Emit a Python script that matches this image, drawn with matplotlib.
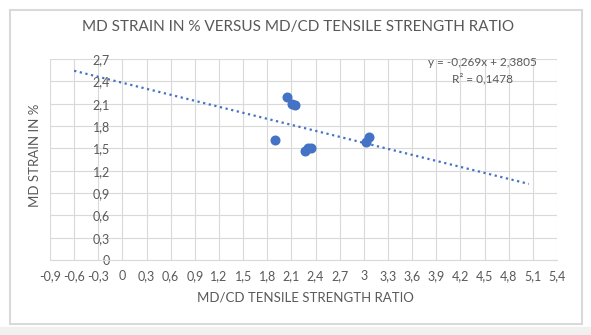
import matplotlib.pyplot as plt
import numpy as np
from matplotlib.patches import Rectangle

# data
ratio = [2.04, 2.11, 2.14, 1.90, 2.31, 2.27, 2.34, 3.07, 3.03]
strain = [2.19, 2.09, 2.08, 1.61, 1.50, 1.46, 1.50, 1.65, 1.58]
slope = -0.269
intercept = 2.3805
r2 = 0.1478
trend_x = [-0.6, 5.05]
x_ticks = [round(-0.9 + 0.3 * i, 1) + 0.0 for i in range(22)]
y_ticks = [round(0.3 * i, 1) for i in range(10)]

plt.rcParams['font.family'] = ['Lato', 'DejaVu Sans']
grey = '#595959'
blue = '#4472C4'


def fmt(v):
    if abs(v) < 1e-9:
        v = 0.0
    return ('%g' % v).replace('.', ',')


fig = plt.figure(figsize=(5.91, 3.35), dpi=100)
W, H = 591, 335
# light strip at the bottom + chart border
fig.patches.append(Rectangle((0, 0), 1, 8 / H, transform=fig.transFigure,
                             color='#f0f0f0', zorder=0))
fig.patches.append(Rectangle((10 / W, (H - 324) / H), 572 / W, 314 / H,
                             transform=fig.transFigure, fill=False,
                             edgecolor='#d9d9d9', lw=1.5, zorder=1))

ax = fig.add_axes([50 / W, (H - 260) / H, 507 / W, 201 / H])
ax.set_xlim(x_ticks[0], x_ticks[-1])
ax.set_ylim(y_ticks[0], y_ticks[-1])
ax.set_xticks(x_ticks)
ax.set_yticks(y_ticks)
ax.set_xticklabels([fmt(v) for v in x_ticks])
ax.set_yticklabels([fmt(v) for v in y_ticks])
ax.grid(True, color='#d9d9d9', lw=0.8)
ax.set_axisbelow(True)
for s in ['top', 'right']:
    ax.spines[s].set_visible(False)
ax.spines['left'].set_position(('data', 0))
ax.spines['left'].set_visible(False)
ax.spines['bottom'].set_color('#d9d9d9')
ax.tick_params(axis='both', length=0, labelsize=9, colors=grey)
ax.tick_params(axis='y', pad=9)
ax.tick_params(axis='x', pad=7)

tx = np.array(trend_x)
ax.plot(tx, slope * tx + intercept, color=blue, lw=1.6,
        linestyle=(0, (1, 1.6)), zorder=2)
ax.plot(ratio, strain, 'o', color=blue, markersize=6.2, zorder=3)

eq = 'y = ' + fmt(slope) + 'x + ' + fmt(intercept)
fig.text(482 / W, 1 - 63 / H, eq, ha='center', va='center', fontsize=8.5, color=grey)
fig.text(482 / W, 1 - 79 / H, 'R² = ' + fmt(r2), ha='center', va='center',
         fontsize=8.5, color=grey)

fig.text(298 / W, 1 - 27 / H, 'MD STRAIN IN % VERSUS MD/CD TENSILE STRENGTH RATIO',
         ha='center', va='center', fontsize=11, color=grey)
fig.text(305 / W, 1 - 298 / H, 'MD/CD TENSILE STRENGTH RATIO',
         ha='center', va='center', fontsize=9.5, color=grey)
fig.text(35 / W, 1 - 155 / H, 'MD STRAIN IN %', rotation=90,
         ha='center', va='center', fontsize=9.5, color=grey)

fig.savefig('out.png', dpi=100)
